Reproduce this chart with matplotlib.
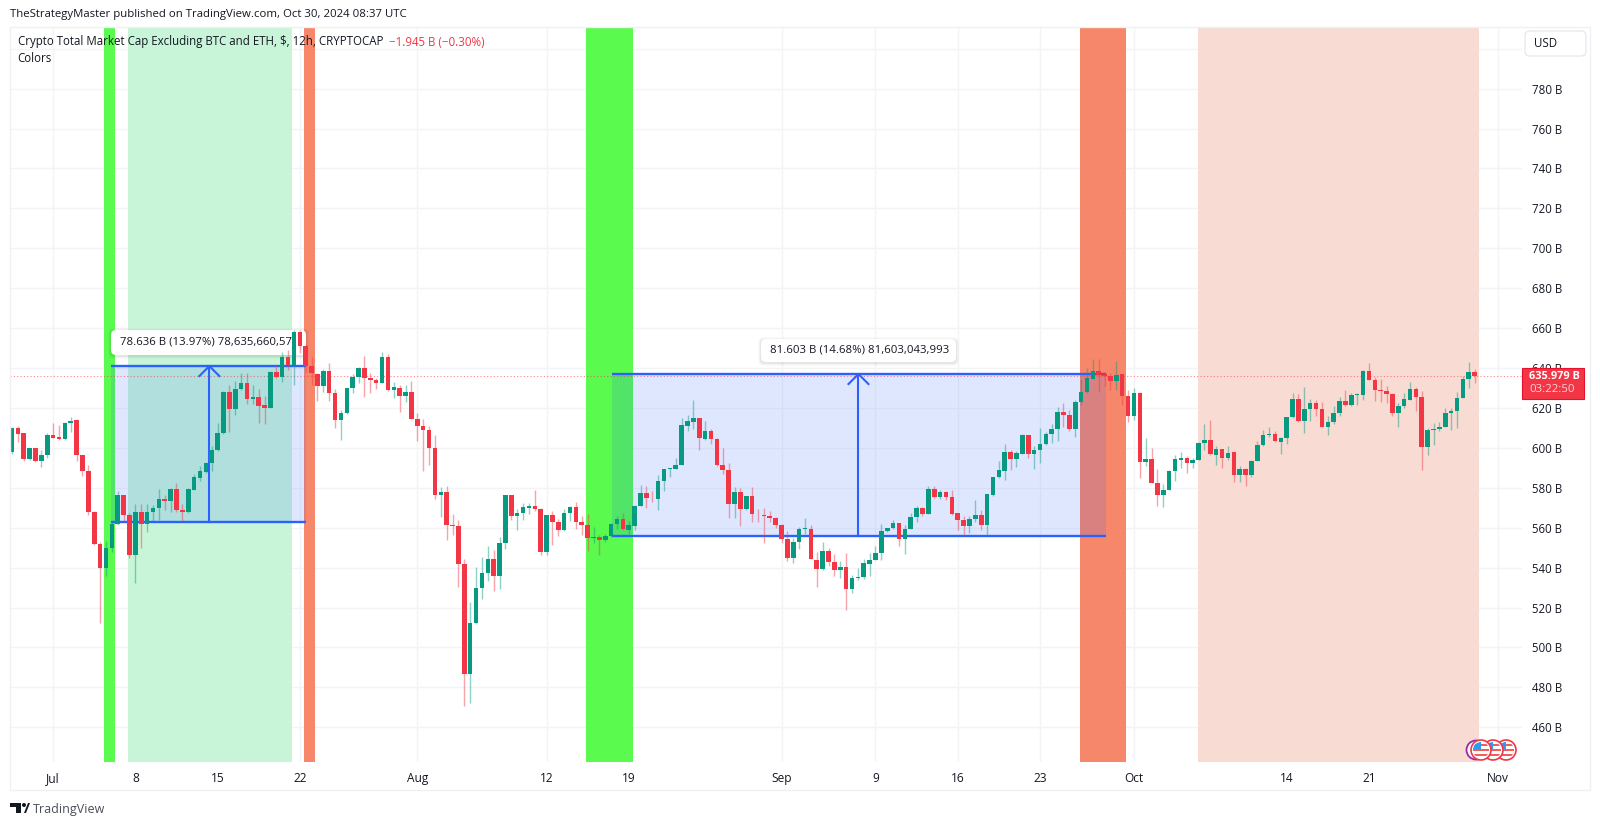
import matplotlib
matplotlib.use('Agg')
import matplotlib.pyplot as plt
from matplotlib.patches import Circle, FancyBboxPatch, Polygon, Rectangle

plt.rcParams['font.family'] = ['Open Sans', 'DejaVu Sans']

# 12h candles, in billions of USD (first bar is Jun 27 12:00)
opens = [597.7, 609.8, 607.3, 594.3, 599.7, 593.3, 596.3, 606.3, 605.3, 604.7,
         612.7, 613.8, 596.3, 588.5, 567.7, 552, 539.7, 549.7, 562, 576.2,
         566.5, 546.3, 568, 561.7, 567.7, 569.7, 574.5, 573.3, 579.5, 569,
         567.7, 579, 585, 588, 592.3, 598.7, 607.3, 628.2, 619.3, 629.3,
         632.3, 624.5, 625.7, 621.3, 620.2, 637.8, 635.7, 645.7, 641.3, 658,
         651.2, 641, 637, 631.2, 638.3, 627.7, 614, 617.3, 629.8, 635.7,
         639.8, 635.2, 634, 632.7, 645.3, 629, 630, 626.2, 628.2, 614.5,
         611.2, 609, 600, 576.2, 577.8, 561.3, 560.7, 541.8, 486.5, 512.3,
         530, 537.2, 544.5, 535.7, 552.3, 576.2, 566, 567.3, 570, 570.7,
         569.3, 547.7, 566.5, 562.8, 559, 567.2, 570.5, 562.7, 561.2, 554.7,
         555.5, 554, 556, 561.7, 564.2, 559, 561, 570.7, 577.3, 575,
         574.5, 583.2, 589.2, 589.3, 591.3, 611, 613, 614.8, 604.7, 608.3,
         604.7, 591.5, 588.7, 572, 578, 569.3, 575.7, 567, 566.3, 566,
         564.8, 561.5, 554.3, 545, 553, 559.2, 559.5, 544, 539.5, 548.3,
         543, 539, 540.2, 529.2, 534.8, 535.5, 542, 543.7, 547.3, 558.2,
         559.8, 562.2, 554.3, 559.5, 565.5, 570, 567, 579.3, 575.3, 577.7,
         575.3, 567.3, 564, 560.7, 564.3, 566.5, 561.2, 576.5, 585.2, 588.5,
         597.7, 594.5, 597, 606.3, 596.7, 598.8, 602, 606.8, 609.5, 618,
         616.3, 609.7, 623, 627.8, 634.7, 638.7, 636.8, 636.2, 633.7, 636.8,
         626.2, 616, 627.7, 593, 594.3, 582.3, 576.5, 579, 588.3, 594,
         595, 592.3, 594, 602.3, 604, 596.5, 599.3, 594.7, 597.7, 586.5,
         589.5, 586.5, 593.3, 601.2, 606.3, 607.2, 603, 604.8, 615.3, 624.7,
         613.7, 619.7, 622.3, 619.7, 610.5, 612.8, 617.3, 623.5, 621.3, 626.3,
         626.5, 638.3, 634.2, 629, 628.7, 627, 617.7, 621.2, 624.2, 629.3,
         625.7, 600.3, 609, 609.3, 610.5, 617.7, 618.3, 625.2, 634.5, 637.8]
closes = [609.8, 607, 594.3, 599.7, 593.3, 596.5, 606.5, 605.2, 604.7, 612.7,
          613.7, 596.3, 588.5, 567.7, 552, 539.7, 549.7, 562, 576.2, 566.5,
          546.5, 568, 561.7, 568, 569.7, 574.5, 573.3, 579.5, 569, 567.7,
          579.5, 585.2, 588.2, 592.3, 598.7, 607.7, 628.2, 619.3, 629.3, 632.3,
          624.5, 625.7, 621.2, 620.2, 638, 635.7, 645.7, 641.5, 658, 651,
          641.2, 637.3, 631.2, 638.3, 627.7, 614, 617.3, 629.8, 635.7, 639.8,
          635.2, 634, 632.7, 645.3, 629, 630.3, 626.2, 628.2, 614.5, 611.2,
          609, 600, 576.2, 577.8, 561.3, 560.7, 541.8, 486.5, 512.3, 530,
          537.2, 544.5, 535.7, 552.3, 576.2, 566, 567.3, 570.2, 570.8, 569.3,
          547.7, 566.5, 562.8, 559, 567.2, 570.5, 562.7, 561.2, 554.7, 555.5,
          554, 556, 561.7, 564.2, 559.3, 561.3, 571, 577.3, 575, 574.7,
          583.3, 589.2, 589.7, 591.5, 611.3, 613.3, 614.8, 604.8, 608.3, 604.7,
          591.3, 588.7, 572, 578, 569.3, 575.7, 566.8, 566.7, 566, 564.8,
          561.5, 554.3, 545, 553, 559.3, 559.7, 544.5, 539.5, 548.3, 543,
          539, 540.2, 529.2, 534.8, 535.5, 542.2, 543.8, 547.3, 558.3, 559.8,
          562.2, 554.3, 559.5, 565.5, 570, 567, 579.3, 575.3, 577.7, 575.3,
          567, 564, 560.7, 564.3, 566.5, 561.2, 576.8, 585.3, 588.7, 597.7,
          594.5, 597.3, 606.3, 596.7, 598.8, 602, 607, 609.7, 618, 616.3,
          609.7, 623.2, 628, 634.8, 638.7, 636.5, 636.2, 633.7, 636.7, 626.2,
          616, 627.7, 593, 594.3, 582.3, 576.5, 579, 588.5, 594.2, 595,
          592.3, 594, 602.5, 604, 596.7, 599.3, 594.7, 597.3, 586.5, 589.5,
          586.5, 593.5, 601.3, 606.5, 607.2, 603.2, 605, 615.5, 624.7, 613.7,
          619.7, 622.3, 619.7, 610.5, 613, 617.5, 623.5, 621.3, 626.3, 626.8,
          638.3, 634.2, 629, 628.7, 627, 617.7, 621.2, 624.3, 629.3, 625.5,
          600.3, 609, 609.5, 610.5, 617.7, 618.5, 625, 634.5, 637.8, 636]
highs = [610.7, 611.2, 607.7, 600, 600, 599, 607.3, 612.3, 611.3, 613,
         615.3, 614.3, 596.3, 591.2, 568.2, 552.7, 553.2, 563.2, 578.2, 576.5,
         567.3, 572, 572, 572, 571.5, 579.5, 576.2, 579.8, 582.3, 572,
         579.8, 587, 591, 592.7, 600.7, 612.3, 628.7, 631.5, 633.7, 637.7,
         637.3, 631.5, 629.3, 626, 638.3, 641.5, 648.2, 649, 659.3, 659.3,
         652, 645.7, 637.7, 639.3, 642.7, 629.3, 619, 629.8, 636.8, 640.7,
         646, 637.3, 635.2, 648, 647, 633.2, 631.5, 631.5, 633.7, 617.3,
         614.5, 611.2, 606.3, 580.3, 580.7, 567, 563.7, 544.3, 522.8, 540.2,
         545.2, 551, 549, 555.3, 576.2, 576.2, 569.5, 572.3, 572.3, 579,
         569.7, 566.5, 568.2, 564.3, 569.3, 570.7, 572.8, 565.7, 567, 560.3,
         556.5, 557, 562.3, 565.7, 567.3, 563.2, 571.5, 581.5, 581, 578.2,
         586.5, 589.2, 589.8, 594.8, 614.8, 616.5, 624, 614.8, 613.7, 609.3,
         604.8, 599.8, 592.3, 580.3, 580, 576, 580.3, 569.3, 569.8, 568.3,
         565.2, 562, 558.2, 554.8, 560.3, 565, 561.5, 547.7, 553, 549.8,
         547, 543.2, 547.3, 536.5, 539.8, 544.3, 547.3, 550.7, 561.8, 560,
         564, 562.3, 561.5, 567.3, 571, 570.3, 580.7, 580.7, 579, 578.5,
         579, 567.5, 565.7, 566, 574, 569, 576.8, 585.5, 593.5, 601.8,
         598.7, 598.5, 607, 606.5, 600.7, 609.8, 608.2, 612, 620.7, 622.3,
         619, 624, 634.3, 639.8, 644.3, 644.3, 637.8, 637.3, 643.7, 636.8,
         629, 630.2, 628.2, 604.8, 599.8, 589.3, 581.8, 589, 596.5, 597.8,
         595.7, 594.8, 602.7, 612, 614, 600.7, 599.3, 601, 597.7, 590.7,
         590, 594, 603.2, 609, 610.3, 608.7, 605.3, 615.7, 627.3, 627,
         630.7, 624.3, 624, 623.2, 616, 621.2, 625.7, 629, 627.7, 627.3,
         639, 642.7, 635.3, 634.3, 631, 627.3, 622.3, 627.7, 633, 630.3,
         628.7, 609.8, 612.3, 613.2, 619.8, 619.8, 627.8, 636, 642.8, 639.5]
lows = [597, 602.7, 593.3, 594, 593, 590.2, 595, 605, 604, 604,
        608.2, 593.3, 585.7, 566.5, 551.5, 512.3, 535.7, 547.7, 561.5, 563.2,
        544.8, 532.3, 549.7, 557.7, 563.2, 564, 569, 568, 568, 563.3,
        567.3, 578.7, 583.2, 587.3, 588.5, 598.2, 607, 608.2, 616.7, 629,
        622, 622, 612.3, 612, 619.8, 634.8, 633.2, 639, 631.5, 647.3,
        638.2, 631.5, 623.5, 627.8, 623.7, 610.2, 603.7, 617, 627.3, 632.7,
        625.7, 627.3, 629.5, 632.3, 628.7, 624.8, 618.2, 623.2, 614.3, 603.2,
        588.2, 591.5, 574.5, 565.2, 553.7, 556.2, 530.3, 470.5, 472, 512,
        524.5, 533.5, 528.2, 529.5, 549.5, 564, 559, 564, 567, 568.2,
        546.5, 546.5, 551.2, 555.7, 558.3, 563.2, 559.5, 556.2, 548.5, 552.3,
        546.2, 552.8, 555.3, 559.3, 559, 557, 559, 570.7, 569.7, 572.7,
        569, 578.2, 585.3, 589.3, 591.3, 608.3, 609.5, 599, 604, 601.7,
        591, 586.7, 564.7, 565, 560.7, 569, 562.7, 562.7, 552.3, 562.7,
        559.8, 552.3, 543.2, 542.3, 549.3, 557, 544.5, 530.3, 539, 540.7,
        535.7, 534.8, 519, 527.3, 533.7, 534.3, 535.7, 543.7, 544, 558,
        559.3, 551, 547, 559.3, 563, 566, 566.8, 574.8, 574.5, 574,
        566.5, 558.7, 556.5, 557.3, 562.7, 559, 556.5, 576, 584.8, 584,
        589, 590.3, 597, 594.8, 589.3, 592.3, 601.5, 602.3, 603.5, 610.7,
        608.7, 605.7, 621.5, 627.7, 634.3, 628.2, 631.2, 629, 629, 621.5,
        613.2, 614, 584.8, 591, 582.3, 571, 570.2, 578.7, 583.5, 589.8,
        587.3, 589.8, 593.7, 598.7, 596.5, 591.5, 589.8, 594, 583, 583,
        581, 585.3, 593.3, 601, 605.7, 602.7, 597, 601.8, 615.2, 613,
        607.7, 613.7, 616, 610.3, 606.3, 612, 616, 621, 621, 621.5,
        624, 634, 623.5, 622.8, 622.3, 616, 610.3, 619.8, 624, 618.7,
        589, 596.5, 601.3, 608.7, 610.3, 609, 609.8, 624.8, 630.2, 632.3]

# Date ticks, given as bar numbers
date_pos = [7, 21, 35, 49, 69, 91, 105, 131, 147, 161, 175, 191, 217, 231, 253]
date_labels = ['Jul', '8', '15', '22', 'Aug', '12', '19', 'Sep', '9', '16', '23', 'Oct', '14', '21', 'Nov']
price_ticks = list(range(460, 801, 20))
price_labels = [f'{p} B' if p < 800 else '' for p in price_ticks]

# Coloured background zones
zone_starts = [15.7, 19.7, 49.7, 97.7, 181.8, 201.9]
zone_ends = [17.6, 47.7, 51.6, 105.8, 189.6, 249.8]
zone_colors = ['#5AFA4F', '#C8F5D8', '#F7876A', '#5AFA4F', '#F7876A', '#F8DCD3']

# Price range measurements
measure_starts = [16.85, 102.1]
measure_ends = [50.05, 186.2]
measure_arrows = [33.6, 144.1]
measure_lows = [563, 556]
measure_highs = [641, 637]

last_price = 635.979

red = '#F23645'
green = '#089981'
blue = '#2962FF'
grid_color = '#F3F4F7'
text_color = '#131722'

fig = plt.figure(figsize=(16, 8.25), dpi=100, facecolor='white')
ax = fig.add_axes([10 / 1600, 1 - 762 / 825, 1512 / 1600, 735 / 825])
ax.set_xlim(-0.34, 257.06)
ax.set_ylim(442.6, 810.9)

# Overlay in pixel coordinates, for everything around the chart
over = fig.add_axes([0, 0, 1, 1], zorder=5)
over.set_xlim(0, 1600)
over.set_ylim(825, 0)
over.axis('off')

for s in ax.spines.values():
    s.set_visible(False)
ax.set_xticks(date_pos)
ax.set_xticklabels(date_labels, fontsize=8.6, color=text_color)
ax.yaxis.tick_right()
ax.set_yticks(price_ticks)
ax.set_yticklabels(price_labels, fontsize=8.3, color=text_color)
ax.tick_params(axis='both', length=0)
ax.tick_params(axis='x', pad=7)
ax.tick_params(axis='y', pad=7)
ax.grid(True, color=grid_color, lw=1)
ax.set_axisbelow(True)

for a, b, c in zip(zone_starts, zone_ends, zone_colors):
    ax.axvspan(a, b, color=c, lw=0, zorder=1)

# Measure tool: fill, edges and arrow
for a, b, m, lo, hi in zip(measure_starts, measure_ends, measure_arrows, measure_lows, measure_highs):
    ax.fill_between([a, b], lo, hi, color=blue, alpha=0.15, lw=0, zorder=2)
    ax.plot([a, b], [lo, lo], color=blue, lw=1.7, zorder=2.5, solid_capstyle='butt')
    ax.plot([a, b], [hi, hi], color=blue, lw=1.7, zorder=2.5, solid_capstyle='butt')
    ax.plot([m, m], [lo, hi], color=blue, lw=1.5, zorder=2.5)
    ax.plot([m - 1.7, m, m + 1.7], [hi - 5, hi, hi - 5], color=blue, lw=1.5, zorder=2.5)

# Measure labels, under the candles
boxes = [(111, 330, 195, 25, 120, '78.636 B (13.97%) 78,635,660,57'),
         (761, 339, 195, 23, 770, '81.603 B (14.68%) 81,603,043,993')]
for bx, by, bw, bh, tx, label in boxes:
    for grow, al in [(2.5, 0.04), (1.2, 0.06)]:
        ax.add_patch(FancyBboxPatch((bx - grow, by - grow + 1), bw + 2 * grow, bh + 2 * grow,
                                    boxstyle='round,pad=0,rounding_size=5', fc='black', ec='none', alpha=al,
                                    transform=over.transData, zorder=2.7, clip_on=False))
    ax.add_patch(FancyBboxPatch((bx, by), bw, bh, boxstyle='round,pad=0,rounding_size=5', fc='white', ec='none',
                                transform=over.transData, zorder=2.8, clip_on=False))
    ax.text(tx, by + bh / 2, label, transform=over.transData, fontsize=8.2, color=text_color,
            ha='left', va='center', zorder=2.9)

# Last price line
ax.axhline(last_price, color=red, lw=0.8, ls=(0, (1, 2)), alpha=0.6, zorder=2.6)

# Candles
xs = list(range(len(closes)))
colors = [green if c >= o else red for o, c in zip(opens, closes)]
ax.vlines(xs, lows, highs, colors=colors, lw=1, alpha=0.45, zorder=3)
ax.bar(xs, [abs(c - o) for o, c in zip(opens, closes)], bottom=[min(o, c) for o, c in zip(opens, closes)],
       width=0.78, color=colors, lw=0, zorder=4)

# Outer frame
over.add_patch(Rectangle((9.5, 27), 1580.5, 763, fc='none', ec='#EEF0F3', lw=1))

# Header and legend text
over.text(10, 15, 'TheStrategyMaster published on TradingView.com, Oct 30, 2024 08:37 UTC',
          fontsize=8.2, color=text_color, va='center', ha='left')
over.text(17.5, 42, 'Crypto Total Market Cap Excluding BTC and ETH, $, 12h, CRYPTOCAP',
          fontsize=8.3, color=text_color, va='center', ha='left')
over.text(389, 42, '\u22121.945 B (\u22120.30%)', fontsize=8.3, color=red, va='center', ha='left')
over.text(17.5, 59, 'Colors', fontsize=8.3, color=text_color, va='center', ha='left')

# USD button
over.add_patch(FancyBboxPatch((1525, 31), 61, 25, boxstyle='round,pad=0,rounding_size=5', fc='white', ec='#E8EAEF', lw=1))
over.text(1534, 43.5, 'USD', fontsize=8.3, color=text_color, va='center', ha='left')

# Last price tag
over.add_patch(Rectangle((1522, 367.5), 62, 31.5, fc=red, ec='#E8112D', lw=0.8))
over.text(1529, 376.5, '635.979 B', fontsize=7.9, color='white', fontweight='bold', va='center', ha='left')
over.text(1529, 390, '03:22:50', fontsize=8.2, color='#FBD5DA', va='center', ha='left')

# Economic event icons
over.add_patch(Circle((1476, 750), 9.5, fc='white', ec='#9C27B0', lw=1.3))
for cx in [1506, 1493, 1481]:
    over.add_patch(Circle((cx, 750), 10, fc='white', ec=red, lw=1.2))
    disc = Circle((cx, 750), 8, transform=over.transData)
    for sy in [745, 750, 755]:
        stripe = Rectangle((cx - 9, sy - 1.3), 18, 2.6, fc='#F25C5C', ec='none')
        over.add_patch(stripe)
        stripe.set_clip_path(disc)
    canton = Rectangle((cx - 9, 741), 9, 8, fc='#2F9BF0', ec='none')
    over.add_patch(canton)
    canton.set_clip_path(disc)

# TradingView logo
over.add_patch(Polygon([(10, 803), (21, 803), (21, 813), (16, 813), (16, 807), (10, 807)], fc=text_color, ec='none'))
over.add_patch(Circle((24, 805), 2, fc=text_color, ec='none'))
over.add_patch(Polygon([(24, 813), (28, 803), (30, 803), (26, 813), (21, 813)], fc=text_color, ec='none'))
over.text(33, 809.5, 'TradingView', fontsize=9, color='#4A4E59', va='center', ha='left')

plt.savefig('out.png', dpi=100, facecolor='white')
